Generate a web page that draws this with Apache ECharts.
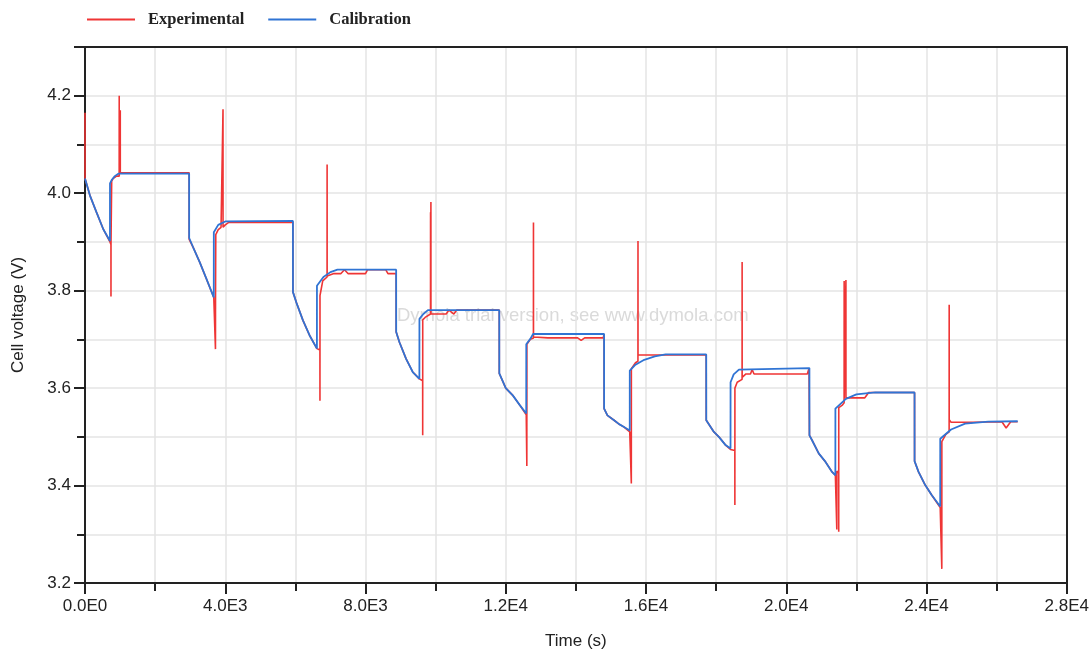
<!DOCTYPE html>
<html>
<head>
<meta charset="utf-8">
<script src="https://cdn.jsdelivr.net/npm/echarts@6/dist/echarts.min.js"></script>
<style>
  html, body { margin: 0; padding: 0; background: #ffffff; }
  #chart { width: 1092px; height: 655px; }
</style>
</head>
<body>
<div id="chart"></div>
<script>
// ---- Data ----
const seriesNames = ["Experimental", "Calibration"];

// Experimental (red) trace: time (s) / voltage (V)
const expTime = [
  0, 1, 142, 332, 522, 712, 740, 741, 742, 760, 761, 800, 900, 975, 976, 977, 1005, 1006, 1007, 2970,
  2971, 3084, 3274, 3464, 3673, 3720, 3721, 3722, 3730, 3800, 3880, 3935, 3936, 3937, 4000, 4100, 5930,
  5931, 6026, 6216, 6406, 6614, 6700, 6701, 6702, 6780, 6904, 6905, 6906, 7100, 7300, 7400, 7500, 8000, 8060, 8575, 8640, 8874,
  8875, 8968, 9158, 9347, 9537, 9630, 9631, 9632, 9700, 9854, 9855, 9856, 9864, 9865, 9866, 10300, 10380, 10520, 10600, 11815,
  11816, 12000, 12200, 12400, 12584, 12600, 12601, 12602, 12700, 12789, 12790, 12791, 13200, 14050, 14150, 14250, 14780, 14804,
  14805, 14899, 15089, 15231, 15374, 15536, 15580, 15581, 15582, 15700, 15770, 15771, 15772, 17717,
  17718, 17936, 18078, 18268, 18410, 18533, 18534, 18535, 18600, 18740, 18741, 18742, 18850, 18980, 19026, 19080, 20600, 20650, 20660,
  20661, 20735, 20925, 21115, 21305, 21400, 21440, 21441, 21442, 21495, 21496, 21497, 21600, 21650, 21651, 21652, 21700, 21701, 21702, 22240, 22350, 23658,
  23659, 23772, 23962, 24151, 24390, 24435, 24436, 24437, 24550, 24645, 24646, 24647, 24700, 25300, 26150, 26270, 26400, 26600
];
const expVolt = [
  4.165, 4.03, 3.995, 3.96, 3.926, 3.90, 3.895, 3.788, 3.90, 3.90, 4.025, 4.03, 4.035, 4.035, 4.20, 4.035, 4.035, 4.17, 4.042, 4.042,
  3.905, 3.889, 3.858, 3.824, 3.786, 3.783, 3.68, 3.78, 3.915, 3.925, 3.93, 3.93, 4.172, 3.93, 3.935, 3.94, 3.94,
  3.797, 3.776, 3.739, 3.708, 3.681, 3.678, 3.574, 3.79, 3.82, 3.828, 4.059, 3.83, 3.835, 3.835, 3.843, 3.835, 3.835, 3.843, 3.843, 3.835, 3.835,
  3.715, 3.694, 3.66, 3.633, 3.619, 3.615, 3.503, 3.74, 3.745, 3.752, 3.961, 3.752, 3.752, 3.982, 3.752, 3.752, 3.76, 3.752, 3.76, 3.76,
  3.63, 3.60, 3.585, 3.565, 3.545, 3.545, 3.44, 3.69, 3.70, 3.703, 3.94, 3.705, 3.703, 3.703, 3.698, 3.703, 3.703, 3.711,
  3.558, 3.544, 3.534, 3.526, 3.52, 3.51, 3.508, 3.404, 3.64, 3.652, 3.655, 3.902, 3.668, 3.668,
  3.534, 3.51, 3.50, 3.483, 3.474, 3.472, 3.36, 3.60, 3.612, 3.618, 3.859, 3.622, 3.629, 3.629, 3.638, 3.629, 3.629, 3.641, 3.641,
  3.503, 3.493, 3.466, 3.449, 3.428, 3.421, 3.42, 3.31, 3.43, 3.425, 3.305, 3.56, 3.565, 3.57, 3.82, 3.58, 3.58, 3.822, 3.58, 3.58, 3.591, 3.591,
  3.45, 3.428, 3.401, 3.38, 3.355, 3.353, 3.229, 3.49, 3.505, 3.51, 3.771, 3.535, 3.53, 3.53, 3.531, 3.518, 3.531, 3.531
];

// Calibration (blue) trace: time (s) / voltage (V)
const calTime = [
  0, 142, 332, 522, 712, 713, 760, 850, 950, 2970,
  2971, 3084, 3274, 3464, 3673, 3674, 3800, 4000, 5930,
  5931, 6026, 6216, 6406, 6614, 6615, 6800, 7000, 7200, 8874,
  8875, 8968, 9158, 9347, 9537, 9538, 9650, 9780, 11815,
  11816, 12000, 12200, 12400, 12584, 12585, 12700, 12780, 14804,
  14805, 14899, 15089, 15231, 15374, 15536, 15537, 15700, 15950, 16250, 16560, 17717,
  17718, 17936, 18078, 18268, 18410, 18411, 18500, 18650, 20660,
  20661, 20735, 20925, 21115, 21305, 21400, 21401, 21700, 22000, 22540, 23658,
  23659, 23772, 23962, 24151, 24390, 24391, 24700, 25100, 25760, 26600
];
const calVolt = [
  4.03, 3.995, 3.96, 3.926, 3.902, 4.02, 4.027, 4.035, 4.04, 4.04,
  3.908, 3.889, 3.858, 3.824, 3.786, 3.92, 3.935, 3.942, 3.943,
  3.797, 3.776, 3.739, 3.708, 3.681, 3.81, 3.828, 3.838, 3.843, 3.843,
  3.715, 3.694, 3.66, 3.633, 3.619, 3.742, 3.752, 3.76, 3.76,
  3.63, 3.60, 3.585, 3.565, 3.548, 3.69, 3.701, 3.711, 3.711,
  3.558, 3.544, 3.534, 3.526, 3.52, 3.513, 3.636, 3.648, 3.658, 3.665, 3.669, 3.669,
  3.534, 3.51, 3.50, 3.483, 3.476, 3.612, 3.628, 3.638, 3.641,
  3.503, 3.493, 3.466, 3.449, 3.428, 3.421, 3.558, 3.578, 3.587, 3.591, 3.591,
  3.45, 3.428, 3.401, 3.38, 3.357, 3.496, 3.515, 3.527, 3.531, 3.532
];

const xAxisRange = [0, 28000];
const yAxisRange = [3.2, 4.3];
const axisTitles = { x: "Time (s)", y: "Cell voltage (V)" };
const watermarkText = "Dymola trial version, see www.dymola.com";

// ---- Chart ----
const chart = echarts.init(document.getElementById('chart'), null, { renderer: 'canvas' });

function sciLabel(v) {
  if (v === 0) return "0.0E0";
  const e = Math.floor(Math.log10(v) + 1e-9);
  const m = v / Math.pow(10, e);
  return m.toFixed(1) + "E" + e;
}

const SANS = "Liberation Sans, Arial, sans-serif";
const axisColor = "#222";
const gridColor = "#e4e4e4";
const frameLine = { show: true, onZero: false, lineStyle: { color: axisColor, width: 2 } };

chart.setOption({
  animation: false,
  backgroundColor: "#ffffff",
  legend: {
    left: 82, top: 6,
    itemWidth: 48, itemHeight: 2, itemGap: 24,
    icon: 'rect',
    data: seriesNames,
    textStyle: { fontFamily: "Liberation Serif, serif", fontWeight: "bold", fontSize: 16.5, color: "#222", padding: [0, 0, 0, 8] }
  },
  graphic: [{
    type: 'text', left: 397, top: 306, silent: true,
    style: { text: watermarkText, fill: "#dadada", font: "18.5px 'Liberation Sans', Arial, sans-serif" }
  }],
  grid: {
    left: 85, right: 24, top: 47, bottom: 70,
    show: false, containLabel: false
  },
  xAxis: [
    {
      type: 'value', position: 'bottom', min: xAxisRange[0], max: xAxisRange[1], interval: 4000,
      name: axisTitles.x, nameLocation: 'middle', nameGap: 50,
      nameTextStyle: { fontFamily: SANS, fontSize: 17, color: axisColor },
      axisLine: frameLine,
      axisTick: { show: true, length: 11, lineStyle: { color: axisColor, width: 2 } },
      minorTick: { show: true, splitNumber: 2, length: 8, lineStyle: { color: axisColor, width: 2 } },
      axisLabel: { fontFamily: SANS, fontSize: 17, color: axisColor, margin: 15, formatter: v => sciLabel(v) },
      splitLine: { show: true, showMinLine: false, showMaxLine: false, lineStyle: { color: gridColor, width: 1.5 } },
      minorSplitLine: { show: true, lineStyle: { color: gridColor, width: 1.5 } }
    },
    {
      type: 'value', position: 'top', min: xAxisRange[0], max: xAxisRange[1], interval: 4000,
      axisLine: frameLine, axisTick: { show: false }, axisLabel: { show: false }, splitLine: { show: false }
    }
  ],
  yAxis: [
    {
      type: 'value', position: 'left', min: yAxisRange[0], max: yAxisRange[1], interval: 0.1,
      name: axisTitles.y, nameLocation: 'middle', nameGap: 58, nameRotate: 90,
      nameTextStyle: { fontFamily: SANS, fontSize: 17, color: axisColor },
      axisLine: frameLine,
      axisTick: { show: true, length: 8, lineStyle: { color: axisColor, width: 2 } },
      axisLabel: { show: false },
      splitLine: { show: true, showMinLine: false, showMaxLine: false, lineStyle: { color: gridColor, width: 1.5 } }
    },
    {
      type: 'value', position: 'left', offset: 0, min: yAxisRange[0], max: yAxisRange[1], interval: 0.2,
      axisLine: frameLine,
      axisTick: { show: true, length: 11, lineStyle: { color: axisColor, width: 2 } },
      axisLabel: {
        fontFamily: SANS, fontSize: 17, color: axisColor, margin: 14,
        formatter: v => (Math.round(v * 10) % 2 === 0 ? v.toFixed(1) : "")
      },
      splitLine: { show: false }
    },
    {
      type: 'value', position: 'right', offset: 0, min: yAxisRange[0], max: yAxisRange[1], interval: 0.1,
      axisLine: frameLine, axisTick: { show: false }, axisLabel: { show: false }, splitLine: { show: false }
    }
  ],
  series: [
    {
      name: seriesNames[0], type: 'line', xAxisIndex: 0, yAxisIndex: 0, showSymbol: false, symbol: 'none', z: 2,
      data: expTime.map((t, i) => [t, expVolt[i]]),
      lineStyle: { color: "#ef3535", width: 1.6 },
      itemStyle: { color: "#ef3535" }
    },
    {
      name: seriesNames[1], type: 'line', xAxisIndex: 0, yAxisIndex: 0, showSymbol: false, symbol: 'none', z: 3,
      data: calTime.map((t, i) => [t, calVolt[i]]),
      lineStyle: { color: "#3074d4", width: 1.8 },
      itemStyle: { color: "#3074d4" }
    }
  ]
});
</script>
</body>
</html>
